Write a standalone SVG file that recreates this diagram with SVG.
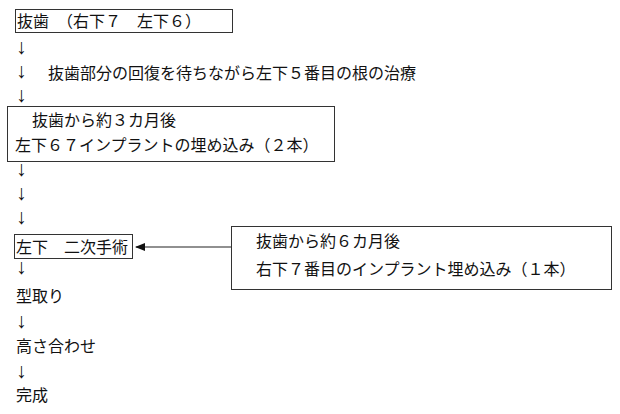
<svg xmlns="http://www.w3.org/2000/svg" width="620" height="414" viewBox="0 0 620 414">
<style>
.t{font-family:"Liberation Serif","Noto Sans CJK JP",serif;font-size:16px;fill:#111}
.b{fill:#fff;stroke:#333;stroke-width:1}
.d{font-family:"Liberation Serif",serif;font-size:21px;fill:#111}
</style>
<defs>
<marker id="ah" markerWidth="10" markerHeight="8" refX="9" refY="4" orient="auto" markerUnits="userSpaceOnUse">
<path d="M0,0 L10,4 L0,8 Z" fill="#111"/>
</marker>
</defs>
<rect width="620" height="414" fill="#fff"/>
<g id="connectors">
<text class="d" x="16" y="54">↓</text>
<text class="d" x="16" y="78">↓</text>
<text class="d" x="16" y="102">↓</text>
<text class="d" x="16" y="176">↓</text>
<text class="d" x="16" y="200">↓</text>
<text class="d" x="16" y="224">↓</text>
<text class="d" x="16" y="274">↓</text>
<text class="d" x="16" y="328">↓</text>
<text class="d" x="16" y="378">↓</text>
<line x1="231" y1="247" x2="136" y2="247" stroke="#222" stroke-width="1.2" marker-end="url(#ah)"/>
</g>
<g id="n1">
<rect class="b" x="15.5" y="9.5" width="217" height="23"/>
<text class="t" x="17" y="27">抜歯　（右下７　左下６）</text>
</g>
<g id="n2">
<text class="t" x="48" y="79">抜歯部分の回復を待ちながら左下５番目の根の治療</text>
</g>
<g id="n3">
<rect class="b" x="7.5" y="106.5" width="327" height="55"/>
<text class="t" x="32" y="126">抜歯から約３カ月後</text>
<text class="t" x="15" y="151">左下６７インプラントの埋め込み（２本）</text>
</g>
<g id="n4">
<rect class="b" x="14.5" y="234.5" width="118" height="24"/>
<text class="t" x="16" y="253">左下　二次手術</text>
</g>
<g id="n5">
<rect class="b" x="231.5" y="226.5" width="380" height="63"/>
<text class="t" x="256" y="247">抜歯から約６カ月後</text>
<text class="t" x="256" y="275">右下７番目のインプラント埋め込み（１本）</text>
</g>
<g id="n6"><text class="t" x="16" y="302">型取り</text></g>
<g id="n7"><text class="t" x="16" y="352">高さ合わせ</text></g>
<g id="n8"><text class="t" x="16" y="401">完成</text></g>
</svg>
